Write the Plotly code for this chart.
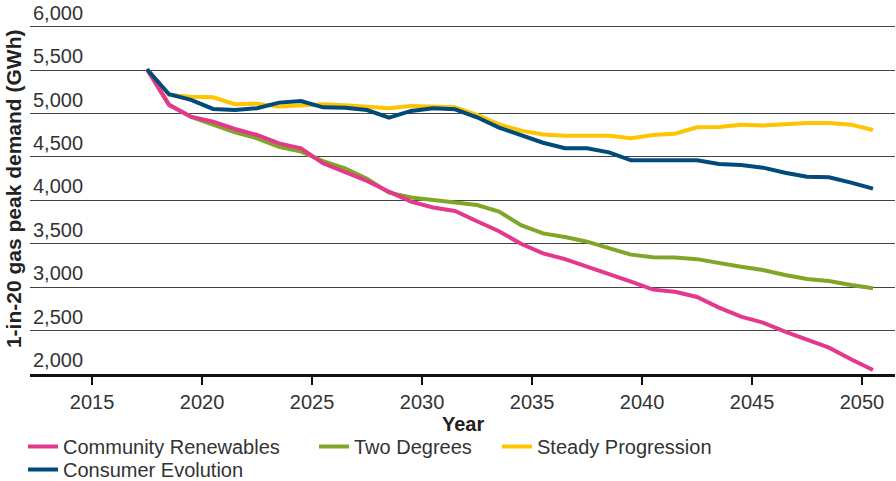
import plotly.graph_objects as go

years = [2017.5 + i for i in range(34)]

community_renewables = [5510, 5100, 4964, 4906, 4822, 4753, 4657, 4600, 4427, 4331,
                        4225, 4100, 3985, 3918, 3878, 3760, 3645, 3500, 3390, 3323,
                        3240, 3150, 3065, 2972, 2948, 2887, 2764, 2660, 2591, 2487,
                        2392, 2303, 2169, 2046]
two_degrees = [5510, 5100, 4960, 4868, 4784, 4715, 4618, 4561, 4452, 4370,
               4250, 4089, 4033, 4004, 3976, 3947, 3870, 3714, 3620, 3578,
               3524, 3455, 3375, 3344, 3342, 3323, 3275, 3236, 3198, 3140,
               3094, 3071, 3025, 2987]
steady_progression = [5510, 5215, 5195, 5188, 5107, 5114, 5080, 5099, 5108, 5095,
                      5080, 5061, 5088, 5080, 5072, 4984, 4876, 4803, 4760, 4745,
                      4742, 4745, 4715, 4753, 4768, 4842, 4845, 4872, 4861, 4876,
                      4892, 4892, 4872, 4811]
consumer_evolution = [5510, 5222, 5157, 5053, 5041, 5061, 5126, 5145, 5072, 5068,
                      5041, 4953, 5030, 5061, 5049, 4957, 4838, 4753, 4664, 4600,
                      4600, 4553, 4461, 4461, 4461, 4461, 4419, 4408, 4377, 4319,
                      4273, 4266, 4204, 4135]

x_ticks = [2015, 2020, 2025, 2030, 2035, 2040, 2045, 2050]
y_ticks = [2000, 2500, 3000, 3500, 4000, 4500, 5000, 5500, 6000]

FONT = "Liberation Sans, Arial, sans-serif"

# draw order: green, yellow, pink, blue ; legend order via legendrank
series = [
    ("Two Degrees", two_degrees, "#80A628", 2, 138, "legend"),
    ("Steady Progression", steady_progression, "#FFC300", 3, None, "legend"),
    ("Community Renewables", community_renewables, "#E4388C", 1, 246, "legend"),
    ("Consumer Evolution", consumer_evolution, "#004A7C", 4, None, "legend2"),
]

fig = go.Figure()
for name, vals, color, rank, lw, lg in series:
    kw = dict(legendwidth=lw) if lw else {}
    fig.add_trace(go.Scatter(
        x=years, y=vals, name=name, mode="lines",
        line=dict(color=color, width=4),
        legendrank=rank, legend=lg, **kw,
    ))

legend_common = dict(orientation="h", x=23 / 896, xanchor="left", xref="container",
                     yref="container", yanchor="top",
                     font=dict(size=20, color="#333333"), itemwidth=30,
                     bgcolor="rgba(0,0,0,0)")

fig.update_layout(
    width=896, height=481,
    margin=dict(l=30, r=1, t=0, b=107),
    paper_bgcolor="white", plot_bgcolor="white",
    font=dict(family=FONT, size=20, color="#333333"),
    showlegend=True,
    legend=dict(y=1 - 427 / 481, **legend_common),
    legend2=dict(y=1 - 450 / 481, **legend_common),
    xaxis=dict(
        range=[2012.18, 2051.5], tickvals=x_ticks, ticktext=[str(v) for v in x_ticks],
        showgrid=False, zeroline=False, automargin=False,
        showline=True, linecolor="#111111", linewidth=2.5,
        ticks="outside", ticklen=8, tickwidth=2, tickcolor="#111111",
        tickfont=dict(size=20, color="#333333"),
    ),
    yaxis=dict(
        range=[2000, 6308], tickvals=y_ticks,
        ticktext=[f"{v:,}" for v in y_ticks],
        ticklabelposition="inside top", automargin=False,
        showgrid=True, gridcolor="#444444", gridwidth=1,
        zeroline=False, showline=False, ticks="",
        tickfont=dict(size=20, color="#333333"),
    ),
    annotations=[
        dict(text="<b>1-in-20 gas peak demand (GWh)</b>", textangle=-90,
             xref="paper", yref="paper", x=-0.019, y=(374 - 188.5) / 374,
             xanchor="center", yanchor="middle", showarrow=False,
             font=dict(size=21, color="#222222")),
        dict(text="<b>Year</b>", xref="paper", yref="paper", x=0.5,
             y=(374 - 424) / 374,
             xanchor="center", yanchor="middle", showarrow=False,
             font=dict(size=20, color="#222222")),
    ],
)

fig.write_html("out.html", config={"displayModeBar": False},
               post_script="document.body.style.margin='0';")
